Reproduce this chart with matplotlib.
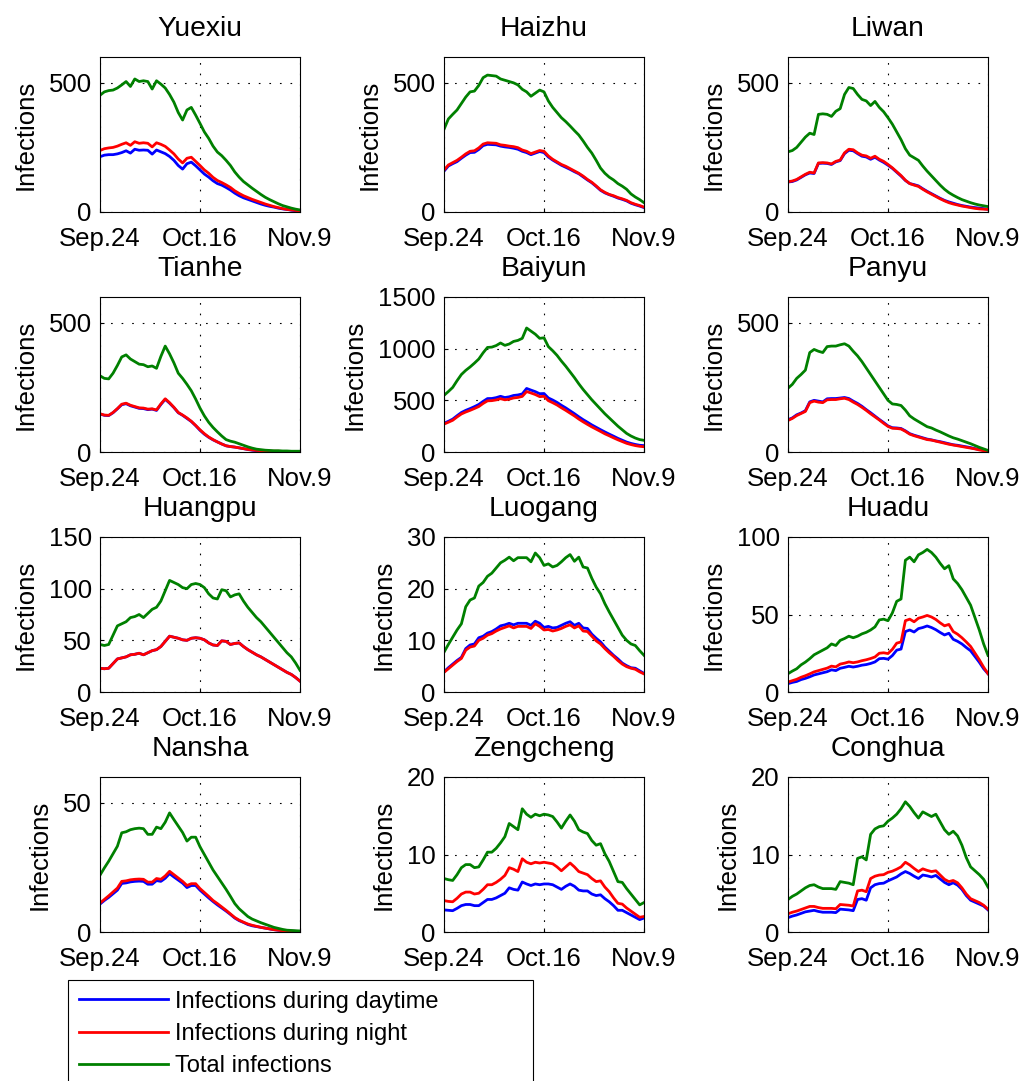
import matplotlib

matplotlib.use("Agg")
import matplotlib.pyplot as plt
import numpy as np

plt.rcParams["font.family"] = ["Liberation Sans", "DejaVu Sans"]

# days from Sep.24 (0) to Nov.9 (46)
days = np.arange(47)
xtick_pos = [0, 23, 46]
xtick_labels = ["Sep.24", "Oct.16", "Nov.9"]

yuexiu_total = [452, 465, 470, 472, 480, 492, 505, 486, 515, 505, 508, 505, 476, 508, 495, 480,
                455, 425, 385, 356, 395, 405, 375, 343, 310, 285, 255, 232, 218, 200, 180, 155,
                135, 118, 105, 92, 80, 68, 57, 48, 40, 32, 25, 20, 15, 11, 8]
yuexiu_night = [238, 245, 248, 250, 255, 262, 268, 258, 272, 266, 268, 266, 252, 268, 262, 254,
                240, 225, 205, 190, 208, 212, 196, 180, 163, 150, 134, 122, 114, 105, 95, 82,
                72, 63, 56, 49, 43, 37, 31, 26, 21, 17, 13, 10, 8, 6, 4]

haizhu_total = [320, 360, 378, 395, 420, 445, 465, 468, 490, 520, 530, 528, 526, 515, 510, 505,
                500, 492, 475, 465, 448, 460, 472, 465, 430, 405, 385, 365, 350, 333, 315, 298,
                275, 250, 228, 200, 170, 150, 135, 124, 110, 100, 88, 70, 58, 48, 36]
haizhu_night = [162, 182, 191, 200, 212, 225, 235, 237, 248, 263, 268, 267, 266, 260, 258, 255,
                253, 249, 240, 235, 226, 232, 238, 235, 217, 204, 194, 184, 177, 168, 159, 150,
                139, 126, 115, 101, 86, 76, 68, 63, 56, 51, 45, 36, 30, 25, 19]

liwan_total = [233, 238, 250, 270, 290, 305, 300, 378, 380, 378, 370, 390, 400, 455, 482, 478,
               455, 436, 430, 412, 428, 405, 388, 365, 340, 310, 280, 245, 220, 210, 200, 178,
               158, 140, 122, 104, 88, 75, 65, 56, 48, 42, 36, 31, 27, 24, 21]
liwan_night = [117, 120, 126, 136, 146, 154, 151, 190, 191, 190, 186, 196, 201, 229, 243, 241,
               229, 220, 217, 208, 216, 204, 196, 184, 171, 156, 141, 123, 110, 104, 99, 88,
               78, 69, 60, 51, 43, 36, 31, 27, 23, 20, 17, 14, 12, 11, 10]

tianhe_total = [295, 285, 283, 305, 335, 368, 376, 360, 350, 340, 338, 330, 333, 324, 370, 410,
                380, 345, 305, 285, 262, 237, 205, 170, 140, 115, 95, 78, 62, 48, 42, 38,
                32, 26, 20, 15, 11, 9, 7, 6, 5, 5, 4, 4, 3, 3, 3]
tianhe_night = [148, 143, 142, 153, 168, 185, 189, 181, 176, 171, 170, 166, 167, 163, 186, 206,
                191, 173, 153, 143, 132, 119, 103, 86, 71, 58, 48, 39, 31, 24, 21, 19,
                16, 13, 10, 8, 6, 5, 4, 3, 3, 3, 2, 2, 2, 2, 2]

baiyun_total = [548, 585, 625, 690, 750, 790, 823, 860, 900, 960, 1012, 1015, 1030, 1055, 1032, 1045,
                1070, 1080, 1100, 1200, 1170, 1140, 1100, 1105, 1020, 980, 935, 880, 830, 775, 720, 660,
                605, 555, 505, 460, 415, 370, 330, 290, 250, 215, 180, 155, 135, 120, 113]
baiyun_night = [270, 288, 307, 339, 368, 387, 403, 421, 440, 470, 495, 497, 504, 516, 505, 511,
                523, 528, 538, 585, 571, 556, 536, 539, 497, 477, 455, 428, 403, 376, 349, 319,
                292, 267, 243, 221, 199, 176, 157, 137, 118, 101, 84, 72, 62, 55, 51]

panyu_total = [247, 262, 285, 300, 317, 385, 397, 390, 385, 408, 410, 410, 415, 419, 410, 390,
               372, 350, 325, 300, 275, 250, 225, 200, 186, 184, 180, 162, 140, 128, 118, 108,
               98, 93, 85, 78, 70, 62, 55, 50, 44, 38, 32, 25, 18, 12, 6]
panyu_night = [122, 130, 141, 149, 157, 191, 197, 193, 191, 202, 203, 203, 206, 208, 203, 193,
               184, 173, 161, 148, 136, 124, 111, 99, 92, 91, 89, 80, 69, 63, 58, 53,
               48, 46, 42, 38, 34, 30, 27, 24, 21, 18, 15, 12, 8, 5, 3]

huangpu_total = [46, 45, 46, 55, 64, 66, 68, 72, 73, 75, 72, 76, 80, 82, 88, 98,
                 108, 106, 104, 101, 100, 104, 105, 104, 101, 95, 91, 90, 99, 98, 92, 94,
                 95, 88, 82, 77, 72, 68, 63, 58, 53, 48, 43, 38, 34, 28, 21]
huangpu_night = [23, 22.5, 23, 27.5, 32, 33, 34, 36, 36.5, 37.5, 36, 38, 40, 41, 44, 49,
                 54, 53, 52, 50.5, 50, 52, 52.5, 52, 50.5, 47.5, 45.5, 45, 49.5, 49, 46, 47,
                 47.5, 44, 41, 38.5, 36, 34, 31.5, 29, 26.5, 24, 21.5, 19, 17, 14, 10.5]

luogang_total = [7.7, 9.2, 10.6, 12, 13.2, 16.5, 17.8, 18.2, 20.5, 21.2, 22.4, 23, 24, 25, 25.5, 26.1,
                 25.4, 26, 26, 26, 25.2, 26.9, 26, 24.5, 24.8, 24.2, 24.5, 25.2, 26, 26.6, 25.3, 26.1,
                 24.2, 24, 22, 20.3, 19, 17.1, 15.5, 14, 12.5, 11, 10, 9.3, 9, 8, 7.1]
luogang_night = [3.8, 4.5, 5.2, 5.9, 6.5, 8.1, 8.7, 8.9, 10, 10.4, 11, 11.3, 11.8, 12.2, 12.5, 12.8,
                 12.4, 12.7, 12.7, 12.7, 12.3, 13.2, 12.7, 12, 12.1, 11.8, 12, 12.3, 12.7, 13, 12.4, 12.8,
                 11.8, 11.7, 10.8, 9.9, 9.3, 8.4, 7.6, 6.9, 6.1, 5.4, 4.9, 4.6, 4.4, 3.9, 3.5]

huadu_total = [11.8, 13.5, 15, 17.5, 19.3, 21.5, 24, 25.5, 27, 28.5, 31, 30, 33.3, 34.5, 36, 35,
               36, 37.5, 38.5, 40, 42, 46.5, 47, 46, 51, 58.5, 60, 85, 87, 84, 88.5, 90,
               92, 90, 87, 83, 79.5, 81.5, 73, 70, 66, 61, 56, 48, 40, 31, 23.6]
huadu_night = [6.4, 7.3, 8.2, 9.5, 10.5, 11.7, 13, 13.8, 14.6, 15.4, 16.7, 16.2, 18, 18.6, 19.4, 18.9,
               19.4, 20.2, 20.8, 21.6, 22.6, 25, 25.3, 24.8, 27.5, 31.5, 32.3, 46, 47, 45.3, 47.6, 48.4,
               49.4, 48.4, 46.8, 44.6, 42.7, 43.6, 39, 37.3, 35, 32.3, 29.4, 25.1, 20.8, 16, 11.8]

nansha_total = [22, 24.8, 27.4, 30.3, 33.2, 38.4, 38.8, 39.6, 40, 40.2, 40, 37.8, 37.8, 40.6, 40, 42.5,
                46.1, 43.5, 41, 38.5, 35.2, 36.7, 36.7, 33, 30, 27, 24, 21.5, 19, 16.5, 13.8, 11,
                9, 7.5, 6, 5, 4.3, 3.6, 3, 2.4, 1.8, 1.4, 1, 0.7, 0.6, 0.5, 0.4]
nansha_night = [11.2, 12.6, 14, 15.5, 17, 19.6, 19.8, 20.2, 20.4, 20.5, 20.4, 19.3, 19.3, 20.7, 20.4, 21.7,
                23.5, 22.2, 20.9, 19.6, 18, 18.7, 18.7, 16.8, 15.3, 13.8, 12.2, 11, 9.7, 8.4, 7, 5.6,
                4.6, 3.8, 3.1, 2.6, 2.2, 1.8, 1.5, 1.2, 0.9, 0.7, 0.5, 0.4, 0.3, 0.25, 0.2]

zengcheng_total = [6.9, 6.75, 6.65, 7.4, 8.3, 8.7, 8.7, 8.3, 8.4, 9.3, 10.3, 10.3, 10.8, 11.5, 12.3, 14,
                   13.6, 13.2, 15.9, 15.2, 14.8, 15.2, 15, 15.2, 15.1, 14.9, 14.2, 13.4, 14.3, 15.1, 14.3, 13.2,
                   12.9, 12.7, 11.8, 11.2, 11.4, 10.1, 9.1, 7.8, 6.5, 6.4, 5.6, 4.9, 4.2, 3.5, 3.8]
zengcheng_night = [4.05, 3.95, 3.9, 4.35, 4.9, 5.15, 5.15, 4.9, 5, 5.5, 6.1, 6.1, 6.4, 6.8, 7.3, 8.3,
                   8.1, 7.8, 9.45, 9, 8.8, 9, 8.9, 9, 8.9, 8.8, 8.4, 7.9, 8.4, 8.9, 8.4, 7.8,
                   7.6, 7.4, 6.9, 6.5, 6.6, 5.8, 5.2, 4.4, 3.7, 3.6, 3.1, 2.7, 2.3, 1.9, 2.0]

conghua_total = [4.2, 4.6, 4.9, 5.3, 5.7, 6.0, 6.1, 5.8, 5.6, 5.6, 5.6, 5.5, 6.5, 6.4, 6.3, 6.1,
                 9.5, 9.7, 9.3, 12.6, 13.3, 13.6, 13.7, 14.3, 14.7, 15.2, 15.9, 16.8, 16.2, 15.4, 14.7, 15.5,
                 15.2, 14.9, 15.2, 14.2, 13.2, 12.6, 13.0, 12.4, 11.2, 9.6, 8.4, 7.9, 7.4, 6.8, 5.8]
conghua_night = [2.35, 2.55, 2.7, 2.9, 3.1, 3.3, 3.3, 3.15, 3.05, 3.05, 3.05, 3.0, 3.55, 3.5, 3.45, 3.35,
                 5.3, 5.4, 5.2, 6.9, 7.2, 7.35, 7.4, 7.7, 7.85, 8.1, 8.4, 9.0, 8.65, 8.2, 7.8, 8.15,
                 7.95, 7.8, 7.9, 7.35, 6.8, 6.5, 6.65, 6.35, 5.7, 4.9, 4.3, 4.05, 3.8, 3.45, 2.95]

names = ["Yuexiu", "Haizhu", "Liwan", "Tianhe", "Baiyun", "Panyu",
         "Huangpu", "Luogang", "Huadu", "Nansha", "Zengcheng", "Conghua"]
totals = [yuexiu_total, haizhu_total, liwan_total, tianhe_total, baiyun_total, panyu_total,
          huangpu_total, luogang_total, huadu_total, nansha_total, zengcheng_total, conghua_total]
nights = [yuexiu_night, haizhu_night, liwan_night, tianhe_night, baiyun_night, panyu_night,
          huangpu_night, luogang_night, huadu_night, nansha_night, zengcheng_night, conghua_night]
ylims = [600, 600, 600, 600, 1500, 600, 150, 30, 100, 60, 20, 20]
yticks = [[0, 500], [0, 500], [0, 500], [0, 500], [0, 500, 1000, 1500], [0, 500],
          [0, 50, 100, 150], [0, 10, 20, 30], [0, 50, 100], [0, 50], [0, 10, 20], [0, 10, 20]]

W, H = 1026, 1081
fig = plt.figure(figsize=(W / 100, H / 100), dpi=100)
col_left = [100, 444, 788]
row_top = [57, 297, 537, 777]
ax_w, ax_h = 200, 155
fs = 18.5

for i, name in enumerate(names):
    r, c = divmod(i, 3)
    ax = fig.add_axes([col_left[c] / W, 1 - (row_top[r] + ax_h) / H, ax_w / W, ax_h / H])
    total = np.array(totals[i], dtype=float)
    night = np.array(nights[i], dtype=float)
    day = total - night
    ax.plot(days, day, color=(0, 0, 1), lw=2, label="Infections during daytime")
    ax.plot(days, night, color=(1, 0, 0), lw=2, label="Infections during night")
    ax.plot(days, total, color=(0, 0.5, 0), lw=2, label="Total infections")
    ax.set_xlim(0, 46)
    ax.set_ylim(0, ylims[i])
    ax.set_xticks(xtick_pos)
    ax.set_xticklabels(xtick_labels)
    ax.set_yticks(yticks[i])
    ax.tick_params(direction="in", length=3, labelsize=fs, width=0.8)
    ax.tick_params(axis="x", pad=11)
    ax.tick_params(axis="y", pad=6)
    ax.grid(True, color="black", linestyle=(0, (1.5, 8)), linewidth=0.8)
    for sp in ax.spines.values():
        sp.set_linewidth(0.8)
    ax.set_ylabel("Infections", fontsize=fs, labelpad=8)
    ax.set_title(name, fontsize=20.3, pad=15)
    if i == 0:
        handles, labels = ax.get_legend_handles_labels()

leg_top = 1 - 980 / H
leg = fig.legend(handles, labels, loc="upper left", mode="expand",
                 bbox_to_anchor=(68 / W, leg_top - 0.2, (533 - 68) / W, 0.2), fontsize=17,
                 frameon=True, fancybox=False, framealpha=1, edgecolor="black",
                 handlelength=3.8, handletextpad=0.3, labelspacing=0.43,
                 borderpad=0.45, borderaxespad=0)
leg.get_frame().set_linewidth(0.8)
leg.set_in_layout(False)

fig.savefig("out.png", dpi=100)
